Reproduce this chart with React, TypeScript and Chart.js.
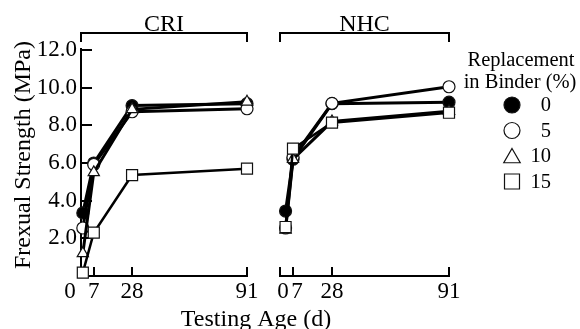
import React, { useEffect, useRef } from 'react';
import { Chart, registerables } from 'chart.js';

Chart.register(...registerables);

const FONT = "'Liberation Serif', 'Times New Roman', Times, serif";

// ---- data ----
const AGES_CRI = [1, 7, 28, 91];
const AGES_NHC = [3, 7, 28, 91];
const X_TICKS = [0, 7, 28, 91];
const Y_TICKS = [2, 4, 6, 8, 10, 12];
const REPLACEMENTS = ['0', '5', '10', '15'];

const CRI_0 = [3.35, 6.0, 9.05, 9.15];
const CRI_5 = [2.55, 5.92, 8.72, 8.88];
const CRI_10 = [1.2, 5.5, 8.85, 9.25];
const CRI_15 = [0.18, 2.3, 5.36, 5.7];

const NHC_0 = [3.45, 6.2, 9.15, 9.23];
const NHC_5 = [2.55, 6.3, 9.17, 10.05];
const NHC_10 = [2.45, 6.2, 8.2, 8.75];
const NHC_15 = [2.6, 6.76, 8.14, 8.67];

// ---- styles ----
const STYLES = [
  { style: 'circle', fill: '#000', r: 6 },
  { style: 'circle', fill: '#fff', r: 6 },
  { style: 'triangle', fill: '#fff', r: 6.5 },
  { style: 'rect', fill: '#fff', r: 7.8 },
];

function makeDatasets(ages: number[], series: number[][]) {
  return series.map((vals, i) => ({
    label: REPLACEMENTS[i],
    data: vals.map((y, j) => ({ x: ages[j], y })),
    borderColor: '#000',
    backgroundColor: STYLES[i].fill,
    borderWidth: i === 3 ? 2.5 : 3,
    pointStyle: STYLES[i].style,
    pointRadius: STYLES[i].r,
    pointBackgroundColor: STYLES[i].fill,
    pointBorderColor: '#111',
    pointBorderWidth: 1.2,
    tension: 0,
    fill: false,
    clip: false,
    order: 3 - i,
  }));
}

function drawMarker(ctx: CanvasRenderingContext2D, style: string, x: number, y: number, r: number, fill: string) {
  ctx.beginPath();
  if (style === 'circle') {
    ctx.arc(x, y, r, 0, Math.PI * 2);
  } else if (style === 'triangle') {
    for (let k = 0; k < 3; k++) {
      const a = -Math.PI / 2 + (k * 2 * Math.PI) / 3;
      const px = x + Math.cos(a) * r;
      const py = y + Math.sin(a) * r;
      if (k === 0) ctx.moveTo(px, py);
      else ctx.lineTo(px, py);
    }
    ctx.closePath();
  } else {
    const h = r * Math.SQRT1_2;
    ctx.rect(x - h, y - h, 2 * h, 2 * h);
  }
  ctx.fillStyle = fill;
  ctx.fill();
  ctx.lineWidth = 1.2;
  ctx.strokeStyle = '#111';
  ctx.stroke();
}

const decoPlugin = {
  id: 'deco',
  beforeDatasetsDraw(chart: any, _args: any, opts: any) {
    const ctx = chart.ctx as CanvasRenderingContext2D;
    const ca = chart.chartArea;
    const xs = chart.scales.x;
    const ys = chart.scales.y;
    ctx.save();
    ctx.strokeStyle = '#000';
    ctx.lineWidth = 2;
    ctx.lineCap = 'square';
    ctx.beginPath();
    ctx.moveTo(ca.left, ca.bottom);
    ctx.lineTo(ca.right, ca.bottom);
    X_TICKS.forEach((v) => {
      if (v === 0 && opts.yAxis) return;
      const px = Math.round(xs.getPixelForValue(v));
      ctx.moveTo(px, ca.bottom);
      ctx.lineTo(px, ca.bottom - 8);
    });
    if (opts.yAxis) {
      ctx.moveTo(ca.left, ca.top - 1);
      ctx.lineTo(ca.left, ca.bottom);
      Y_TICKS.forEach((v) => {
        const py = Math.round(ys.getPixelForValue(v));
        ctx.moveTo(ca.left, py);
        ctx.lineTo(ca.left + 10, py);
      });
    }
    ctx.stroke();
    ctx.restore();
  },
  afterDraw(chart: any, _args: any, opts: any) {
    const ctx = chart.ctx as CanvasRenderingContext2D;
    const ca = chart.chartArea;
    const xs = chart.scales.x;
    ctx.save();
    ctx.fillStyle = '#000';
    ctx.strokeStyle = '#000';
    ctx.lineWidth = 2;

    const by = 33;
    ctx.beginPath();
    ctx.moveTo(ca.left, by + 9);
    ctx.lineTo(ca.left, by);
    ctx.lineTo(ca.right, by);
    ctx.lineTo(ca.right, by + 9);
    ctx.stroke();
    ctx.font = `24px ${FONT}`;
    ctx.textAlign = 'center';
    ctx.textBaseline = 'alphabetic';
    ctx.fillText(opts.title, (ca.left + ca.right) / 2, 31);

    ctx.font = `23px ${FONT}`;
    X_TICKS.forEach((v) => {
      const dx = v === 0 && opts.yAxis ? -11 : v === 0 ? 3 : v === 7 && !opts.yAxis ? 4 : 0;
      ctx.fillText(String(v), xs.getPixelForValue(v) + dx, 298);
    });

    if (opts.yTitle) {
      ctx.save();
      ctx.translate(29.5, 155);
      ctx.rotate(-Math.PI / 2);
      ctx.font = `24px ${FONT}`;
      ctx.textAlign = 'center';
      ctx.textBaseline = 'alphabetic';
      ctx.fillText(opts.yTitle, 0, 0);
      ctx.restore();
    }

    if (opts.xTitle) {
      ctx.font = `24px ${FONT}`;
      ctx.textAlign = 'center';
      ctx.fillText(opts.xTitle, 256, 326);
    }

    if (opts.legend) {
      ctx.font = `20.5px ${FONT}`;
      ctx.textAlign = 'center';
      ctx.fillText('Replacement', 521, 66);
      ctx.fillText('in Binder (%)', 520, 88);
      ctx.textAlign = 'right';
      ctx.textBaseline = 'middle';
      REPLACEMENTS.forEach((lab, i) => {
        const y = 105 + i * 25.5;
        const st = STYLES[i];
        const r = st.style === 'circle' ? 8 : st.style === 'triangle' ? 9.5 : 10.6;
        drawMarker(ctx, st.style, 512, y + (st.style === 'triangle' ? 2 : 0), r, st.fill);
        ctx.fillStyle = '#000';
        ctx.fillText(lab, 551, y + 1);
      });
    }
    ctx.restore();
  },
};

function makeConfig(datasets: any[], padding: any, showY: boolean, deco: any): any {
  return {
    type: 'line',
    data: { datasets },
    options: {
      responsive: false,
      animation: false,
      events: [],
      layout: { padding },
      plugins: {
        legend: { display: false },
        tooltip: { enabled: false },
        deco,
      },
      scales: {
        x: {
          type: 'linear',
          min: 0,
          max: 91,
          grid: { display: false, drawTicks: false },
          border: { display: false },
          ticks: { display: false },
          afterFit: (s: any) => {
            s.height = 53;
          },
        },
        y: {
          type: 'linear',
          display: showY,
          min: 0,
          max: 12,
          grid: { display: false, drawTicks: false },
          border: { display: false },
          afterBuildTicks: (s: any) => {
            s.ticks = Y_TICKS.map((v) => ({ value: v }));
          },
          ticks: {
            padding: 4,
            color: '#000',
            font: { family: FONT, size: 23 },
            callback: (v: any) => Number(v).toFixed(1),
          },
          afterFit: (s: any) => {
            s.width = showY ? 81 : 0;
          },
        },
      },
    },
    plugins: [decoPlugin],
  };
}

export default function App() {
  const refA = useRef<HTMLCanvasElement>(null);
  const refB = useRef<HTMLCanvasElement>(null);

  useEffect(() => {
    const a = new Chart(
      refA.current as HTMLCanvasElement,
      makeConfig(
        makeDatasets(AGES_CRI, [CRI_0, CRI_5, CRI_10, CRI_15]),
        { left: 0, top: 50, right: 333, bottom: 0 },
        true,
        { title: 'CRI', yAxis: true, yTitle: 'Frexual Strength (MPa)' }
      )
    );
    const b = new Chart(
      refB.current as HTMLCanvasElement,
      makeConfig(
        makeDatasets(AGES_NHC, [NHC_0, NHC_5, NHC_10, NHC_15]),
        { left: 280, top: 50, right: 131, bottom: 0 },
        false,
        { title: 'NHC', yAxis: false, xTitle: 'Testing Age (d)', legend: true }
      )
    );
    return () => {
      a.destroy();
      b.destroy();
    };
  }, []);

  const cs: React.CSSProperties = { position: 'absolute', left: 0, top: 0, width: 580, height: 329 };
  return (
    <div style={{ position: 'absolute', left: 0, top: 0, width: 580, height: 329, background: '#fff' }}>
      <canvas ref={refA} width={580} height={329} style={cs} />
      <canvas ref={refB} width={580} height={329} style={cs} />
    </div>
  );
}
